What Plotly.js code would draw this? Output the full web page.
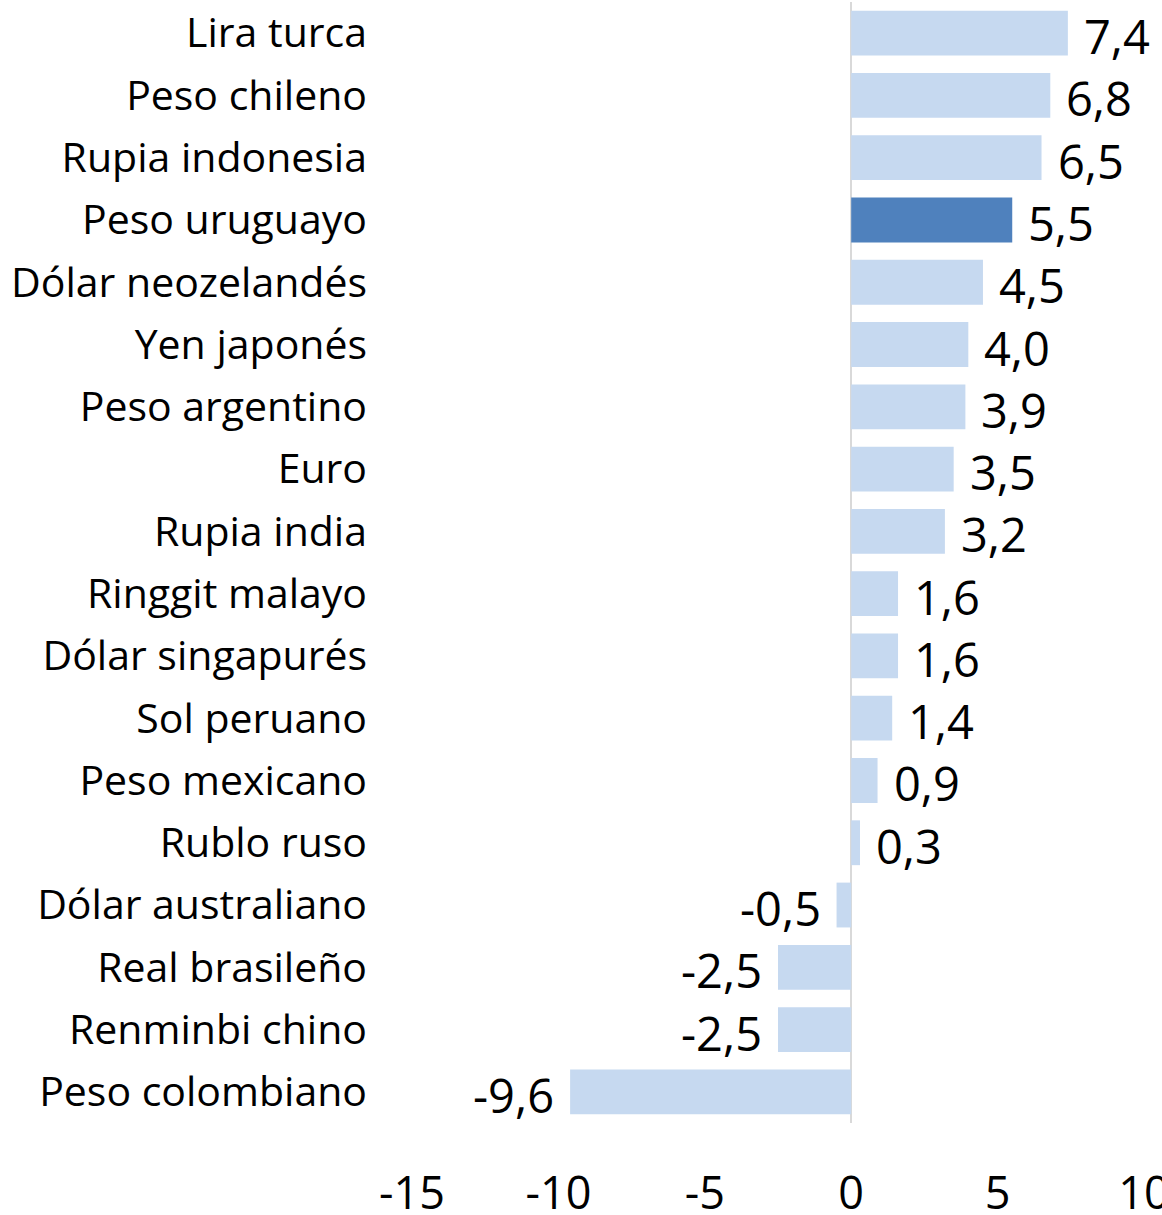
<!DOCTYPE html>
<html>
<head>
<meta charset="utf-8">
<script src="https://cdn.plot.ly/plotly-3.0.1.min.js"></script>
<style>html,body{margin:0;padding:0;background:#fff;}#chart{width:1162px;height:1215px;}</style>
</head>
<body>
<div id="chart"></div>
<script>
const categories = ["Lira turca","Peso chileno","Rupia indonesia","Peso uruguayo","Dólar neozelandés","Yen japonés","Peso argentino","Euro","Rupia india","Ringgit malayo","Dólar singapurés","Sol peruano","Peso mexicano","Rublo ruso","Dólar australiano","Real brasileño","Renminbi chino","Peso colombiano"];
const values = [7.4,6.8,6.5,5.5,4.5,4.0,3.9,3.5,3.2,1.6,1.6,1.4,0.9,0.3,-0.5,-2.5,-2.5,-9.6];
const highlight = "Peso uruguayo";
const tickValues = [-15,-10,-5,0,5,10];

const FONT = "'Open Sans', Lato, sans-serif";
const colors = categories.map(c => c === highlight ? "#4f81bd" : "#c6d9f0");
const labels = values.map(v => v.toFixed(1).replace(".", ","));

const trace = {
  type: "bar",
  orientation: "h",
  y: categories,
  x: values,
  marker: {color: colors, line: {width: 0}},
  hoverinfo: "none",
  cliponaxis: false
};

const annotations = values.map((v, i) => ({
  x: v, y: categories[i], xref: "x", yref: "y",
  text: labels[i], showarrow: false,
  xanchor: v >= 0 ? "left" : "right",
  xshift: v >= 0 ? 14 : -14, yshift: -3,
  font: {family: FONT, size: 47, color: "#000"}
}));

const layout = {
  width: 1162, height: 1215,
  margin: {l: 411.5, r: 18, t: 2, b: 92, autoexpand: false},
  paper_bgcolor: "#fff", plot_bgcolor: "#fff",
  showlegend: false,
  bargap: 0.28,
  font: {family: FONT, color: "#000"},
  xaxis: {
    range: [-15, 10],
    tickvals: tickValues,
    ticktext: tickValues.map(v => String(v)),
    showgrid: false, showline: false, ticks: "",
    zeroline: true, zerolinecolor: "#d9d9d9", zerolinewidth: 2,
    tickfont: {family: FONT, size: 45, color: "#000"},
    ticklabelstandoff: 40,
    ticklabeloverflow: "allow",
    automargin: false,
    fixedrange: true
  },
  yaxis: {
    type: "category",
    range: [categories.length - 0.5, -0.5],
    autorange: false,
    showgrid: false, showline: false, zeroline: false, ticks: "",
    tickfont: {family: FONT, size: 41, color: "#000"},
    ticklabelstandoff: 44,
    ticklabeloverflow: "allow",
    automargin: false,
    fixedrange: true
  },
  annotations: annotations
};

Plotly.newPlot("chart", [trace], layout, {displayModeBar: false, staticPlot: true});
</script>
</body>
</html>
